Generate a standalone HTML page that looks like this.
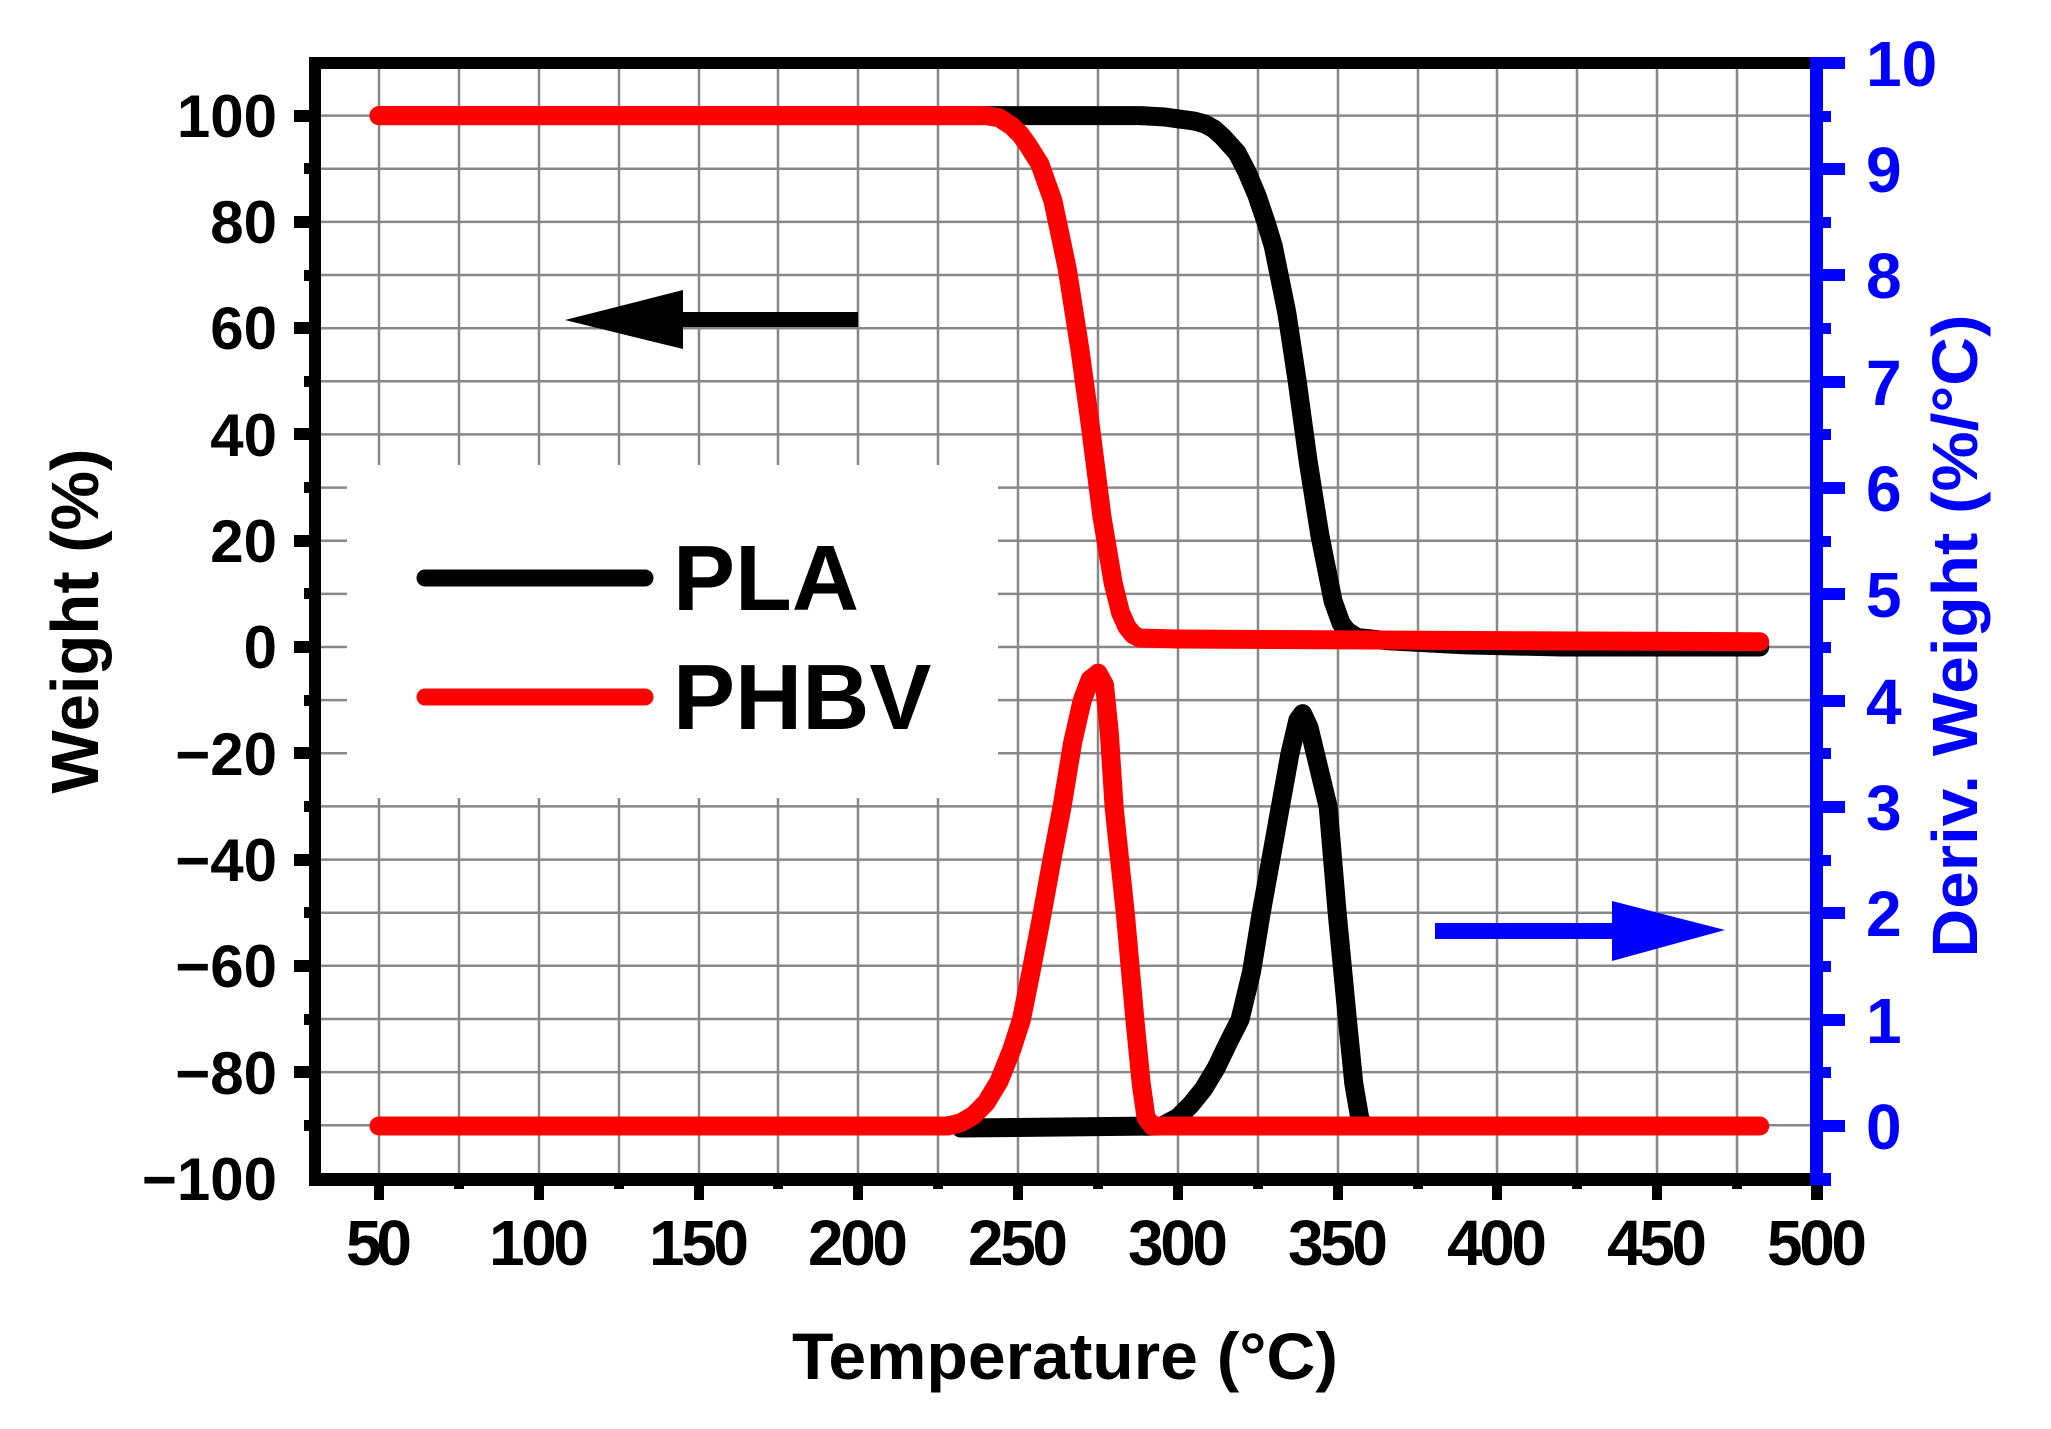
<!DOCTYPE html>
<html><head><meta charset="utf-8"><style>
html,body{margin:0;padding:0;background:#fff;}
svg{display:block;font-family:"Liberation Sans",Arial,sans-serif;font-weight:bold;}
</style></head><body>
<svg width="2051" height="1429" viewBox="0 0 2051 1429" xmlns="http://www.w3.org/2000/svg">
<rect width="2051" height="1429" fill="#fff"/>
<g stroke="#888" stroke-width="2.5">
<line x1="379" y1="63" x2="379" y2="1179"/><line x1="459" y1="63" x2="459" y2="1179"/><line x1="539" y1="63" x2="539" y2="1179"/><line x1="619" y1="63" x2="619" y2="1179"/><line x1="699" y1="63" x2="699" y2="1179"/><line x1="778" y1="63" x2="778" y2="1179"/><line x1="858" y1="63" x2="858" y2="1179"/><line x1="938" y1="63" x2="938" y2="1179"/><line x1="1018" y1="63" x2="1018" y2="1179"/><line x1="1098" y1="63" x2="1098" y2="1179"/><line x1="1178" y1="63" x2="1178" y2="1179"/><line x1="1258" y1="63" x2="1258" y2="1179"/><line x1="1338" y1="63" x2="1338" y2="1179"/><line x1="1418" y1="63" x2="1418" y2="1179"/><line x1="1497" y1="63" x2="1497" y2="1179"/><line x1="1577" y1="63" x2="1577" y2="1179"/><line x1="1657" y1="63" x2="1657" y2="1179"/><line x1="1737" y1="63" x2="1737" y2="1179"/>
<line x1="315" y1="115.6" x2="1816" y2="115.6"/><line x1="315" y1="168.7" x2="1816" y2="168.7"/><line x1="315" y1="221.9" x2="1816" y2="221.9"/><line x1="315" y1="275" x2="1816" y2="275"/><line x1="315" y1="328.2" x2="1816" y2="328.2"/><line x1="315" y1="381.3" x2="1816" y2="381.3"/><line x1="315" y1="434.4" x2="1816" y2="434.4"/><line x1="315" y1="487.6" x2="1816" y2="487.6"/><line x1="315" y1="540.7" x2="1816" y2="540.7"/><line x1="315" y1="593.9" x2="1816" y2="593.9"/><line x1="315" y1="647" x2="1816" y2="647"/><line x1="315" y1="700.1" x2="1816" y2="700.1"/><line x1="315" y1="753.3" x2="1816" y2="753.3"/><line x1="315" y1="806.4" x2="1816" y2="806.4"/><line x1="315" y1="859.6" x2="1816" y2="859.6"/><line x1="315" y1="912.7" x2="1816" y2="912.7"/><line x1="315" y1="965.8" x2="1816" y2="965.8"/><line x1="315" y1="1019" x2="1816" y2="1019"/><line x1="315" y1="1072.1" x2="1816" y2="1072.1"/><line x1="315" y1="1125.3" x2="1816" y2="1125.3"/>
</g>
<rect x="347" y="465" width="651" height="333" fill="#fff"/>
<line x1="425" y1="578" x2="645" y2="578" stroke="#000" stroke-width="17" stroke-linecap="round"/>
<line x1="425" y1="697" x2="645" y2="697" stroke="#f00" stroke-width="17" stroke-linecap="round"/>
<text x="673" y="610" font-size="93" fill="#000">PLA</text>
<text x="673" y="729" font-size="93" fill="#000">PHBV</text>
<g fill="none" stroke-width="19" stroke-linejoin="round" stroke-linecap="round">
<polyline stroke="#000" points="379,115.6 1140,115.6 1165,117 1178,118.9 1194,121 1205,124 1214,129 1222.7,136.9 1237.1,152.8 1246.7,171.4 1256.9,195.3 1265.9,221.9 1273.2,245.8 1286.7,312.2 1296.9,379.2 1308.1,461 1319.9,535.4 1333,600.8 1341,623.1 1347.1,631.1 1357,637.4 1385.7,640.6 1465.6,644.9 1561.5,647 1759.7,647"/>
<polyline stroke="#f00" points="379,115.6 986.2,115.6 999,117.7 1011.8,126.1 1020.1,134.1 1027.8,144.8 1039.9,164.1 1053,201.1 1067.1,268.1 1079.9,349.4 1090.1,423.8 1101.9,516.3 1113.1,582.7 1120.5,612.5 1126.9,626.8 1133.3,634.8 1139.7,638 1178,639 1497.6,640.6 1759.7,641.7"/>
<polyline stroke="#000" points="960.7,1128 1162,1126 1178,1117.5 1190.8,1104.7 1203.6,1088.8 1216.4,1067.5 1229.1,1041 1240,1019.7 1251.5,971.9 1261.1,913.4 1270.7,860.3 1280.3,807.1 1289.9,753.9 1297.9,719.9 1302.6,713.6 1309,727.4 1315.4,753.9 1321.8,780.5 1328.2,807.1 1337.2,913.4 1347.4,1019.7 1353.8,1083.5 1360.2,1120.7 1366.6,1126 1536,1126"/>
<polyline stroke="#f00" points="379,1126 947.9,1126 960.7,1122.8 973.5,1115.4 986.2,1102.6 999,1081.4 1011.8,1049.5 1021.4,1019.7 1031,971.9 1042.2,913.4 1051.8,860.3 1062,807.1 1072.5,743.3 1082.1,700.8 1090.1,679.5 1098.1,673.2 1104.5,684.9 1109.3,732.7 1114.1,807.1 1125.3,913.4 1134.9,1019.7 1141.2,1083.5 1146,1117.5 1152.4,1126 1759.7,1126"/>
</g>
<rect x="683" y="312" width="175" height="15" fill="#000"/>
<polygon points="565,320 683,290 683,349" fill="#000"/>
<rect x="1435" y="923" width="180" height="16" fill="#00f"/>
<polygon points="1725,930 1612,901 1612,961" fill="#00f"/>
<rect x="309" y="57" width="1510" height="12" fill="#000"/>
<rect x="309" y="1173" width="1510" height="13" fill="#000"/>
<rect x="309" y="57" width="12" height="1129" fill="#000"/>
<rect x="1810" y="57" width="13" height="1129" fill="#00f"/>
<g fill="#000">
<rect x="294" y="110" width="16" height="12"/><rect x="294" y="216" width="16" height="12"/><rect x="294" y="322" width="16" height="12"/><rect x="294" y="428" width="16" height="12"/><rect x="294" y="535" width="16" height="12"/><rect x="294" y="641" width="16" height="12"/><rect x="294" y="747" width="16" height="12"/><rect x="294" y="854" width="16" height="12"/><rect x="294" y="960" width="16" height="12"/><rect x="294" y="1066" width="16" height="12"/>
<rect x="304" y="163" width="6" height="11"/><rect x="304" y="270" width="6" height="11"/><rect x="304" y="376" width="6" height="11"/><rect x="304" y="482" width="6" height="11"/><rect x="304" y="588" width="6" height="11"/><rect x="304" y="695" width="6" height="11"/><rect x="304" y="801" width="6" height="11"/><rect x="304" y="907" width="6" height="11"/><rect x="304" y="1014" width="6" height="11"/><rect x="304" y="1120" width="6" height="11"/>
<rect x="374" y="1185" width="10" height="15"/><rect x="534" y="1185" width="10" height="15"/><rect x="694" y="1185" width="10" height="15"/><rect x="853" y="1185" width="10" height="15"/><rect x="1013" y="1185" width="10" height="15"/><rect x="1173" y="1185" width="10" height="15"/><rect x="1333" y="1185" width="10" height="15"/><rect x="1492" y="1185" width="10" height="15"/><rect x="1652" y="1185" width="10" height="15"/><rect x="1811" y="1185" width="12" height="15"/>
<rect x="454" y="1185" width="10" height="4"/><rect x="614" y="1185" width="10" height="4"/><rect x="773" y="1185" width="10" height="4"/><rect x="933" y="1185" width="10" height="4"/><rect x="1093" y="1185" width="10" height="4"/><rect x="1253" y="1185" width="10" height="4"/><rect x="1413" y="1185" width="10" height="4"/><rect x="1572" y="1185" width="10" height="4"/><rect x="1732" y="1185" width="10" height="4"/>
</g>
<g fill="#00f">
<rect x="1822" y="57" width="23" height="12"/><rect x="1822" y="163" width="23" height="12"/><rect x="1822" y="269" width="23" height="12"/><rect x="1822" y="376" width="23" height="12"/><rect x="1822" y="482" width="23" height="12"/><rect x="1822" y="588" width="23" height="12"/><rect x="1822" y="695" width="23" height="12"/><rect x="1822" y="801" width="23" height="12"/><rect x="1822" y="907" width="23" height="12"/><rect x="1822" y="1014" width="23" height="12"/><rect x="1822" y="1120" width="23" height="12"/>
<rect x="1822" y="111" width="9" height="11"/><rect x="1822" y="217" width="9" height="11"/><rect x="1822" y="323" width="9" height="11"/><rect x="1822" y="429" width="9" height="11"/><rect x="1822" y="536" width="9" height="11"/><rect x="1822" y="642" width="9" height="11"/><rect x="1822" y="748" width="9" height="11"/><rect x="1822" y="855" width="9" height="11"/><rect x="1822" y="961" width="9" height="11"/><rect x="1822" y="1067" width="9" height="11"/><rect x="1822" y="1173" width="9" height="13"/>
</g>
<g font-size="60" fill="#000" text-anchor="end">
<text x="277" y="137">100</text><text x="277" y="243">80</text><text x="277" y="349">60</text><text x="277" y="456">40</text><text x="277" y="562">20</text><text x="277" y="668">0</text><text x="277" y="775">−20</text><text x="277" y="881">−40</text><text x="277" y="987">−60</text><text x="277" y="1094">−80</text><text x="277" y="1200">−100</text>
</g>
<g font-size="64" fill="#000" lengthAdjust="spacingAndGlyphs">
<text x="346" y="1265" textLength="66">50</text>
<text x="489" y="1265" textLength="100">100</text>
<text x="649" y="1265" textLength="100">150</text>
<text x="808" y="1265" textLength="100">200</text>
<text x="968" y="1265" textLength="100">250</text>
<text x="1128" y="1265" textLength="100">300</text>
<text x="1288" y="1265" textLength="100">350</text>
<text x="1447" y="1265" textLength="100">400</text>
<text x="1607" y="1265" textLength="100">450</text>
<text x="1767" y="1265" textLength="100">500</text>
</g>
<g font-size="64" fill="#00f">
<text x="1866" y="86">10</text><text x="1866" y="192">9</text><text x="1866" y="298">8</text><text x="1866" y="405">7</text><text x="1866" y="511">6</text><text x="1866" y="617">5</text><text x="1866" y="724">4</text><text x="1866" y="830">3</text><text x="1866" y="936">2</text><text x="1866" y="1043">1</text><text x="1866" y="1149">0</text>
</g>
<text x="792" y="1379" font-size="66" fill="#000" textLength="546" lengthAdjust="spacingAndGlyphs">Temperature (°C)</text>
<text transform="translate(98,621) rotate(-90)" font-size="67" fill="#000" text-anchor="middle">Weight (%)</text>
<text transform="translate(1977,636) rotate(-90)" font-size="64" fill="#00f" text-anchor="middle" textLength="643" lengthAdjust="spacingAndGlyphs">Deriv. Weight (%/°C)</text>
</svg>
</body></html>
